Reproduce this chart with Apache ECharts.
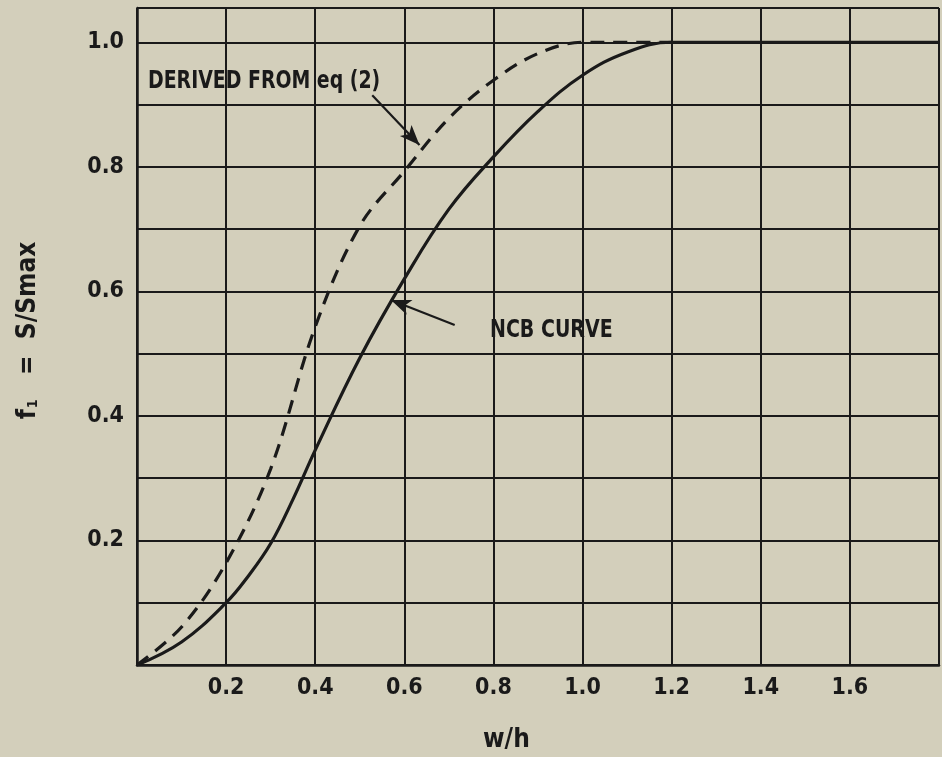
<!DOCTYPE html>
<html>
<head>
<meta charset="utf-8">
<script src="https://cdn.jsdelivr.net/npm/echarts@6/dist/echarts.min.js"></script>
<style>
  html, body { margin: 0; padding: 0; background: #d3cfbb; }
  #chart { width: 942px; height: 757px; }
</style>
</head>
<body>
<div id="chart"></div>
<script>
// NCB curve (solid)
const ncbX = [0, 0.1, 0.2, 0.25, 0.3, 0.35, 0.4, 0.5, 0.6, 0.7, 0.8, 0.9, 1.0, 1.1, 1.2, 1.5, 1.8]
const ncbY = [0, 0.037, 0.1, 0.143, 0.195, 0.266, 0.345, 0.493, 0.62, 0.732, 0.816, 0.889, 0.947, 0.984, 1.0, 1.0, 1.0]
// curve derived from eq (2) (dashed)
const eqX = [0, 0.1, 0.2, 0.3, 0.4, 0.5, 0.6, 0.7, 0.8, 0.9, 1.0, 1.1, 1.2]
const eqY = [0, 0.061, 0.164, 0.315, 0.543, 0.705, 0.793, 0.878, 0.939, 0.982, 1.0, 1.0, 1.0]
const xTicks = [0.2, 0.4, 0.6, 0.8, 1.0, 1.2, 1.4, 1.6]
const yTicks = [0.2, 0.4, 0.6, 0.8, 1.0]

const ink = '#1a1a1a'
const font = '"DejaVu Sans Condensed", "Liberation Sans Narrow", sans-serif'

function pairs(xs, ys) {
  return xs.map((x, i) => [x, ys[i]])
}
function hasTick(list, v) {
  return list.some(t => Math.abs(t - v) < 1e-6)
}

const chart = echarts.init(document.getElementById('chart'))
chart.setOption({
  backgroundColor: '#d3cfbb',
  animation: false,
  grid: { left: 137, top: 8, width: 846, height: 657 },
  xAxis: {
    type: 'value',
    min: 0,
    max: 1.8,
    interval: 0.2,
    axisLine: { show: true, lineStyle: { color: ink, width: 2.5 } },
    axisTick: { show: false },
    splitLine: { show: true, lineStyle: { color: ink, width: 2 } },
    axisLabel: {
      margin: 12,
      color: ink,
      fontFamily: font,
      fontWeight: 'bold',
      fontSize: 23,
      formatter: v => hasTick(xTicks, v) ? v.toFixed(1) : ''
    }
  },
  yAxis: {
    type: 'value',
    min: 0,
    max: 1.055,
    interval: 0.1,
    name: '{a|f}{b|1}{a|   =  S/Smax}',
    nameLocation: 'middle',
    nameGap: 96,
    nameTextStyle: {
      padding: [0, 0, 0, 12],
      rich: {
        a: { fontFamily: font, fontWeight: 'bold', fontSize: 26, color: ink },
        b: { fontFamily: font, fontWeight: 'bold', fontSize: 14, color: ink, padding: [10, 0, 0, 1] }
      }
    },
    axisLine: { show: true, lineStyle: { color: ink, width: 2.5 } },
    axisTick: { show: false },
    splitLine: { show: true, lineStyle: { color: ink, width: 2 } },
    axisLabel: {
      margin: 13,
      color: ink,
      fontFamily: font,
      fontWeight: 'bold',
      fontSize: 23,
      formatter: v => hasTick(yTicks, v) ? v.toFixed(1) : ''
    }
  },
  graphic: [
    {
      type: 'text', left: 148, top: 70, scaleX: 0.875,
      style: { text: 'DERIVED FROM eq (2)', fill: ink, font: 'bold 24px ' + font }
    },
    {
      type: 'text', left: 490, top: 319, scaleX: 0.88,
      style: { text: 'NCB CURVE', fill: ink, font: 'bold 24px ' + font }
    },
    {
      type: 'text', left: 483, top: 727,
      style: { text: 'w/h', fill: ink, font: 'bold 26px ' + font }
    }
  ],
  series: [
    {
      name: 'NCB',
      type: 'line',
      data: pairs(ncbX, ncbY),
      smooth: 0.4,
      showSymbol: false,
      lineStyle: { color: ink, width: 3.2 },
      z: 3,
      markLine: {
        silent: true,
        symbol: ['none', 'arrow'],
        symbolSize: [12, 20],
        label: { show: false },
        lineStyle: { color: ink, width: 2.2, type: 'solid' },
        data: [
          [{ coord: [0.713, 0.546] }, { coord: [0.57, 0.586] }]
        ]
      }
    },
    {
      name: 'eq (2)',
      type: 'line',
      data: pairs(eqX, eqY),
      smooth: 0.35,
      showSymbol: false,
      lineStyle: { color: ink, width: 3.2, type: [14, 9] },
      z: 3,
      markLine: {
        silent: true,
        symbol: ['none', 'arrow'],
        symbolSize: [12, 20],
        label: { show: false },
        lineStyle: { color: ink, width: 2.2, type: 'solid' },
        data: [
          [{ coord: [0.528, 0.915] }, { coord: [0.634, 0.835] }]
        ]
      }
    }
  ]
})
</script>
</body>
</html>
